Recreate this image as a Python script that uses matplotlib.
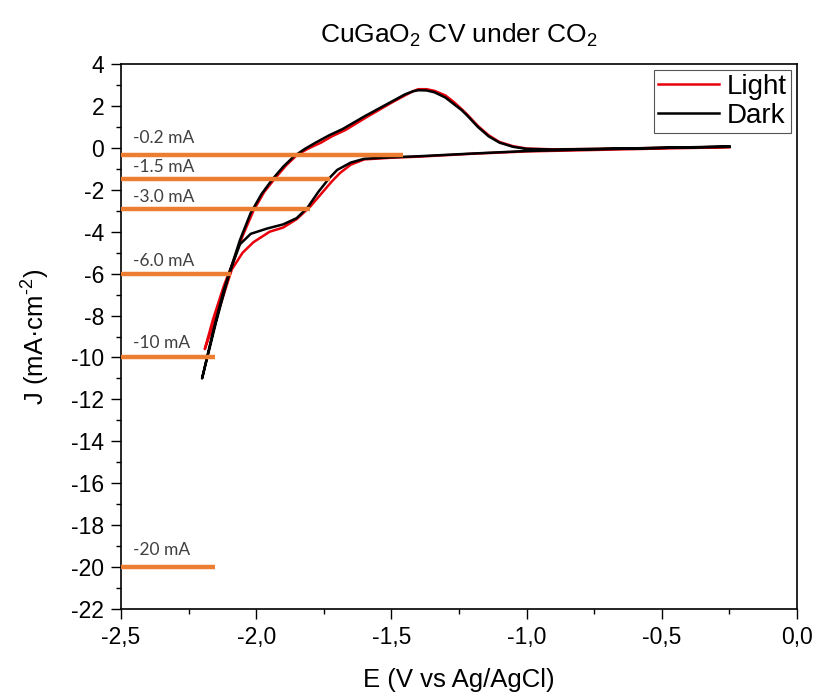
import numpy as np
import matplotlib.pyplot as plt
from matplotlib.ticker import MultipleLocator, FuncFormatter

plt.rcParams['font.family'] = ['Liberation Sans', 'DejaVu Sans']
plt.rcParams['axes.unicode_minus'] = False
plt.rcParams['mathtext.fontset'] = 'custom'
plt.rcParams['mathtext.rm'] = 'Liberation Sans'
plt.rcParams['mathtext.it'] = 'Liberation Sans:italic'
plt.rcParams['mathtext.default'] = 'regular'

# CV, dark: cathodic sweep then anodic sweep back
dark_E = [-0.25, -0.5, -0.75, -1.0, -1.2, -1.4, -1.5, -1.6, -1.65, -1.70, -1.73, -1.77, -1.81,
          -1.85, -1.90, -1.96, -2.02, -2.06, -2.10, -2.15, -2.20,
          -2.16, -2.12, -2.10, -2.06, -2.02, -1.98, -1.94, -1.90, -1.86, -1.82, -1.78, -1.73,
          -1.68, -1.6, -1.5, -1.45, -1.42, -1.40, -1.37, -1.34, -1.30, -1.27, -1.24, -1.22,
          -1.18, -1.14, -1.10, -1.05, -1.0, -0.9, -0.75, -0.5, -0.25]
dark_J = [0.05, 0.0, -0.07, -0.15, -0.27, -0.4, -0.45, -0.52, -0.7, -1.05, -1.45, -2.1, -2.85,
          -3.35, -3.65, -3.85, -4.1, -4.6, -6.0, -8.4, -11.0,
          -8.8, -6.8, -6.0, -4.4, -3.1, -2.2, -1.5, -0.9, -0.4, -0.05, 0.25, 0.6,
          0.9, 1.5, 2.2, 2.55, 2.7, 2.75, 2.74, 2.65, 2.4, 2.1, 1.8, 1.55,
          1.0, 0.55, 0.25, 0.05, -0.05, -0.08, -0.05, 0.0, 0.07]

light_E = [-0.25, -0.5, -0.75, -1.0, -1.2, -1.4, -1.5, -1.6, -1.65, -1.69, -1.72, -1.76, -1.80,
           -1.85, -1.90, -1.95, -2.01, -2.05, -2.09, -2.13, -2.19,
           -2.16, -2.12, -2.09, -2.05, -2.01, -1.97, -1.93, -1.89, -1.85, -1.81, -1.76, -1.72,
           -1.67, -1.6, -1.5, -1.45, -1.42, -1.40, -1.37, -1.34, -1.30, -1.27, -1.24, -1.22,
           -1.18, -1.14, -1.10, -1.05, -1.0, -0.9, -0.75, -0.5, -0.25]
light_J = [0.03, -0.03, -0.1, -0.17, -0.28, -0.42, -0.47, -0.55, -0.8, -1.2, -1.6, -2.2, -2.8,
           -3.4, -3.8, -4.0, -4.5, -5.0, -5.8, -7.4, -9.6,
           -8.2, -6.6, -5.6, -4.2, -3.0, -2.1, -1.45, -0.85, -0.35, -0.05, 0.25, 0.55,
           0.85, 1.4, 2.15, 2.5, 2.7, 2.8, 2.8, 2.72, 2.5, 2.2, 1.85, 1.6,
           1.05, 0.6, 0.28, 0.08, -0.03, -0.07, -0.05, 0.0, 0.05]

# reference current levels
level_J = [-0.35, -1.5, -2.92, -6.0, -10.0, -20.0]
level_end = [-1.457, -1.727, -1.80, -2.093, -2.152, -2.152]
level_labels = ['-0.2 mA', '-1.5 mA', '-3.0 mA', '-6.0 mA', '-10 mA', '-20 mA']
label_J = [0.47, -0.91, -2.35, -5.4, -9.3, -19.2]

fig = plt.figure(figsize=(8.14, 6.93), dpi=100)
ax = fig.add_axes([0.1486, 0.1212, 0.8304, 0.7864])

ax.plot(light_E, light_J, color='#e8000b', lw=1.8, label='Light')
ax.plot(dark_E, dark_J, color='black', lw=1.8, label='Dark')

ax.hlines(level_J, -2.5, level_end, color='#ed7d31', lw=3.2, zorder=3)
for y, s in zip(label_J, level_labels):
    ax.text(-2.456, y, s, fontsize=12.5, color='#404040', va='center', ha='left',
            family=['Lato', 'DejaVu Sans'])

ax.set_xlim(-2.5, 0.0)
ax.set_ylim(-22, 4)
ax.xaxis.set_major_locator(MultipleLocator(0.5))
ax.xaxis.set_minor_locator(MultipleLocator(0.25))
ax.yaxis.set_major_locator(MultipleLocator(2))
ax.yaxis.set_minor_locator(MultipleLocator(1))
ax.xaxis.set_major_formatter(FuncFormatter(lambda v, p: ('%.1f' % v).replace('.', ',')))
ax.yaxis.set_major_formatter(FuncFormatter(lambda v, p: '%d' % v))
ax.tick_params(which='both', direction='out', labelsize=16.5, width=1)
ax.tick_params(which='major', length=7, pad=5)
ax.tick_params(which='minor', length=3.5)
for sp in ax.spines.values():
    sp.set_linewidth(1.2)

ax.set_xlabel('E (V vs Ag/AgCl)', fontsize=18.5, labelpad=14)
ax.set_ylabel(r'J (mA·cm$^{\text{-2}}$)', fontsize=18.5, labelpad=14)
ax.set_title('CuGaO$_2$ CV under CO$_2$', fontsize=19, pad=15)

leg = ax.legend(loc='upper right', fancybox=False, framealpha=1,
                edgecolor='#555555', handlelength=2.2, handletextpad=0.3,
                borderpad=0.15, labelspacing=0.1, borderaxespad=0.2,
                prop={'family': ['Liberation Sans', 'DejaVu Sans'], 'size': 20})
leg.get_frame().set_linewidth(0.8)

plt.savefig('out.png', dpi=100)
